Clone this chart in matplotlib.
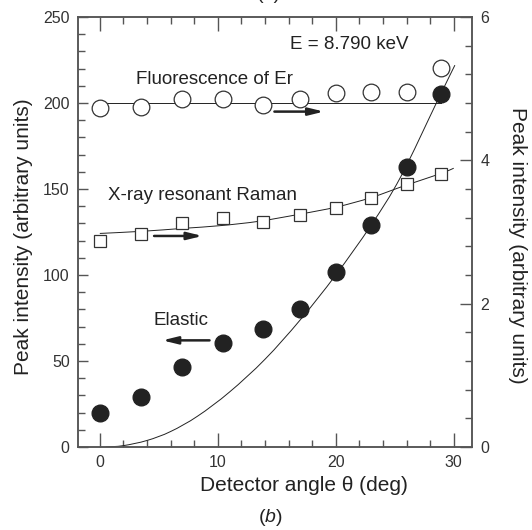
import matplotlib
matplotlib.use("Agg")
import matplotlib.pyplot as plt
from matplotlib.ticker import MultipleLocator
from matplotlib.path import Path
from matplotlib.patches import PathPatch
import numpy as np

plt.rcParams['font.family'] = ['Liberation Sans', 'DejaVu Sans']
plt.rcParams['mathtext.fontset'] = 'custom'
plt.rcParams['mathtext.it'] = 'Liberation Sans:italic'
plt.rcParams['mathtext.rm'] = 'Liberation Sans'

# detector angles (deg)
angle = [0, 3.5, 7, 10.4, 13.8, 17, 20, 23, 26, 28.9]

# elastic peak, left axis
elastic = [20, 29, 46.5, 60.5, 68.5, 80.5, 101.5, 129, 163, 205]
# fluorescence of Er, right axis
fluor = [4.73, 4.75, 4.86, 4.86, 4.77, 4.85, 4.94, 4.96, 4.96, 5.29]
# x-ray resonant Raman, right axis
raman = [2.88, 2.97, 3.13, 3.19, 3.14, 3.24, 3.33, 3.47, 3.67, 3.81]

# guide curves
elastic_fit_x = [0.5, 2, 4, 6, 8.3, 11, 14, 17, 20, 23, 25.5, 28.6, 30.1]
elastic_fit_y = [0, 0.8, 3.8, 9, 18, 32, 51, 74, 100, 129, 157, 201, 222]
raman_fit_x = [0, 3.6, 7, 10.3, 13.5, 17, 20.1, 23, 25.9, 28.8, 30]
raman_fit_y = [2.98, 3.01, 3.05, 3.09, 3.15, 3.25, 3.35, 3.48, 3.65, 3.81, 3.89]
fluor_fit_x = [0, 28.9]
fluor_fit_y = [4.8, 4.8]

dark = '#222222'
spine_c = '#555555'


def smooth_path(xs, ys):
    # catmull-rom through the read points, drawn as cubic bezier segments
    p = np.column_stack([xs, ys]).astype(float)
    verts = [p[0]]
    codes = [Path.MOVETO]
    for i in range(len(p) - 1):
        p0 = p[i - 1] if i > 0 else p[i]
        p3 = p[i + 2] if i + 2 < len(p) else p[i + 1]
        c1 = p[i] + (p[i + 1] - p0) / 6
        c2 = p[i + 1] - (p3 - p[i]) / 6
        verts += [c1, c2, p[i + 1]]
        codes += [Path.CURVE4] * 3
    return Path(verts, codes)


fig = plt.figure(figsize=(5.32, 5.30), dpi=100)
ax = fig.add_axes([78 / 532, 1 - 447 / 530, 394 / 532, 430 / 530])
ax2 = ax.twinx()

ax.set_xlim(-1.85, 31.55)
ax.set_ylim(0, 250)
ax2.set_ylim(0, 6)

# elastic (left axis)
ax.add_patch(PathPatch(smooth_path(elastic_fit_x, elastic_fit_y), fill=False,
                       edgecolor=dark, lw=0.7, zorder=2))
ax.plot(angle, elastic, 'o', ms=12, color=dark, mec=dark, zorder=3)

# right-axis series
ax2.plot(fluor_fit_x, fluor_fit_y, color=dark, lw=0.7, zorder=2)
ax2.add_patch(PathPatch(smooth_path(raman_fit_x, raman_fit_y), fill=False,
                        edgecolor=dark, lw=0.7, zorder=2))
ax2.plot(angle, fluor, 'o', ms=12, mfc='white', mec='#333333', mew=0.9, zorder=3)
ax2.plot(angle, raman, 's', ms=8.5, mfc='white', mec='#333333', mew=0.9, zorder=3)

# annotations (left-axis coordinates)
txt = dict(fontsize=13.5, color=dark, ha='center', va='center')
ax.text(21.15, 234, 'E = 8.790 keV', **txt)
ax.text(9.74, 213.5, 'Fluorescence of Er', **txt)
ax.text(8.68, 146.5, 'X-ray resonant Raman', **txt)
ax.text(6.85, 73.4, 'Elastic', **txt)

arrow = dict(arrowstyle='-|>,head_length=0.9,head_width=0.22', color=dark, lw=1.8,
             shrinkA=0, shrinkB=0)
ax.annotate('', xy=(19.0, 195), xytext=(14.8, 195), arrowprops=arrow)
ax.annotate('', xy=(8.7, 122.7), xytext=(4.6, 122.7), arrowprops=arrow)
ax.annotate('', xy=(5.3, 62), xytext=(9.3, 62), arrowprops=arrow)

# ticks
ax.xaxis.set_major_locator(MultipleLocator(10))
ax.xaxis.set_minor_locator(MultipleLocator(2))
ax.yaxis.set_major_locator(MultipleLocator(50))
ax.yaxis.set_minor_locator(MultipleLocator(10))
ax2.yaxis.set_major_locator(MultipleLocator(2))
ax2.yaxis.set_minor_locator(MultipleLocator(0.4))

ax.tick_params(axis='x', which='both', direction='in', top=True, labelsize=11.5,
               labelcolor='#333333', color=spine_c, pad=6)
ax.tick_params(axis='x', which='major', length=10, width=1)
ax.tick_params(axis='x', which='minor', length=5, width=1)
ax.tick_params(axis='y', which='both', direction='in', labelsize=11.5,
               labelcolor='#333333', color=spine_c, pad=6)
ax.tick_params(axis='y', which='major', length=7, width=1)
ax.tick_params(axis='y', which='minor', length=5, width=1)
ax2.tick_params(axis='y', which='both', direction='in', labelsize=11.5,
                labelcolor='#333333', color=spine_c, pad=6)
ax2.tick_params(axis='y', which='major', length=9, width=1)
ax2.tick_params(axis='y', which='minor', length=5, width=1)

for a in (ax, ax2):
    for s in a.spines.values():
        s.set_color(spine_c)
        s.set_linewidth(1.1)

ax.set_xlabel('Detector angle θ (deg)', fontsize=15, color=dark)
ax.xaxis.set_label_coords(0.573, -0.068)
ax.set_ylabel('Peak intensity (arbitrary units)', fontsize=15, color=dark)
ax.yaxis.set_label_coords(-0.114, 0.49)
ax2.set_ylabel('Peak intensity (arbitrary units)', fontsize=15, color=dark, rotation=270)
ax2.yaxis.set_label_coords(1.14, 0.47)

fig.text(270 / 532, 1 - 518 / 530, r'($b$)', fontsize=14, color=dark, ha='center', va='center')
fig.text(269 / 532, 1.0 + 1 / 530, '(a)', fontsize=14, color=dark, ha='center', va='baseline')

fig.savefig('out.png', dpi=100)
